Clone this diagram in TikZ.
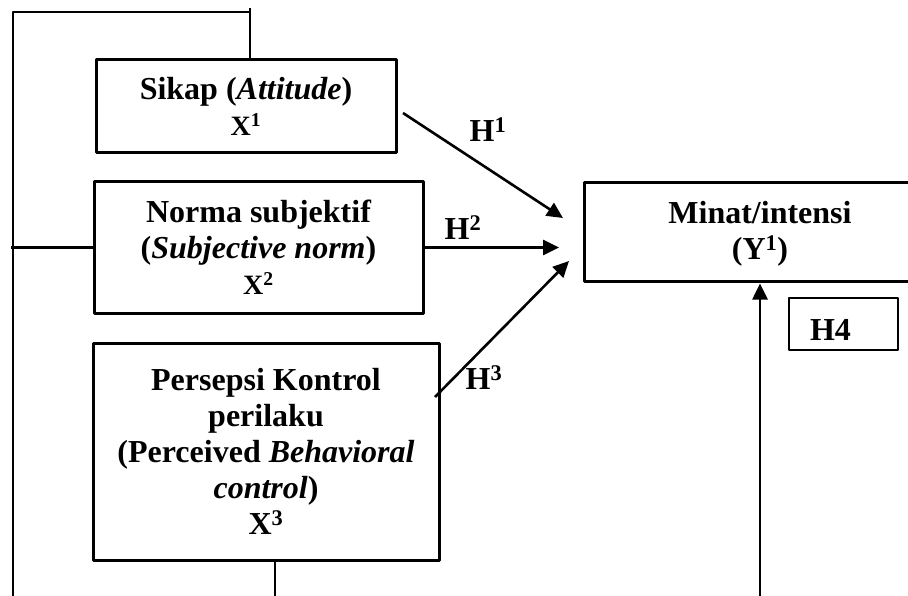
\documentclass[tikz,border=0pt]{standalone}
\usepackage{fontspec}
\setmainfont{Liberation Serif}
\usetikzlibrary{arrows.meta}
\newcommand{\besar}{\fontsize{32}{36}\selectfont}
\newcommand{\kecil}{\fontsize{28}{31}\selectfont}
\begin{document}
\begin{tikzpicture}[x=1pt, y=-1pt, font=\bfseries\besar, line join=round, >={Triangle[length=16pt,width=15pt]},
	kotak/.style={draw, line width=3pt, align=center, inner sep=0pt},
	garis/.style={line width=2.2pt},
	panah/.style={->, line width=2.6pt},
	lbl/.style={inner sep=0pt}]
		\useasboundingbox (0,0) rectangle (908,596);
		\clip (0,0) rectangle (908,596);
		% kotak-kotak
		\node[kotak, minimum width=300pt, minimum height=93pt] (sikap) at (246,106.5)
		{Sikap (\textit{Attitude})\\{\kecil X\textsuperscript{1}}};
		\node[kotak, minimum width=329pt, minimum height=131pt] (norma) at (258.5,247.5)
		{Norma subjektif\\(\textit{Subjective norm})\\{\kecil X\textsuperscript{2}}};
		\node[kotak, minimum width=346pt, minimum height=217pt] (persepsi) at (266,451.5)
		{Persepsi Kontrol\\perilaku\\(Perceived \textit{Behavioral}\\\textit{control})\\X\textsuperscript{3}};
		\node[kotak, minimum width=352pt, minimum height=99pt, text height=60pt] (minat) at (760,232.5)
		{Minat/intensi\\(Y\textsuperscript{1})};
		\node[draw, line width=2.2pt, minimum height=52pt, text width=67pt, text height=32pt, align=left, inner xsep=21pt] (hempat) at (843.5,324) {H4};
		% garis umpan balik
		\coordinate (kiribawah) at (13,596);
		\coordinate (sudut) at (250,12);
		\coordinate (puncak) at (250,8);
		\coordinate (kiritengah) at (11,247.5);
		\coordinate (bawahx) at (275,596);
		\coordinate (bawahy) at (760,596);
		\draw[garis] (kiribawah) |- (sudut);
		\draw[garis] (puncak) -- (puncak |- sikap.north);
		\draw[garis] (kiritengah) -- (norma.west);
		\draw[garis] (bawahx) -- (bawahx |- persepsi.south);
		\draw[panah] (bawahy) -- (minat.south);
		% hipotesis
		\coordinate (a1) at (403,113);
		\coordinate (t1) at (563,218);
		\coordinate (t2) at (559,247.5);
		\coordinate (a3) at (435,397);
		\coordinate (t3) at (569,261);
		\draw[panah] (a1) -- (t1);
		\draw[panah] (norma.east) -- (t2);
		\draw[panah] (a3) -- (t3);
		\node[lbl] (h1) at (488,130) {H\textsuperscript{1}};
		\node[lbl] (h2) at (463,228) {H\textsuperscript{2}};
		\node[lbl] (h3) at (484,378) {H\textsuperscript{3}};
\end{tikzpicture}
\end{document}
